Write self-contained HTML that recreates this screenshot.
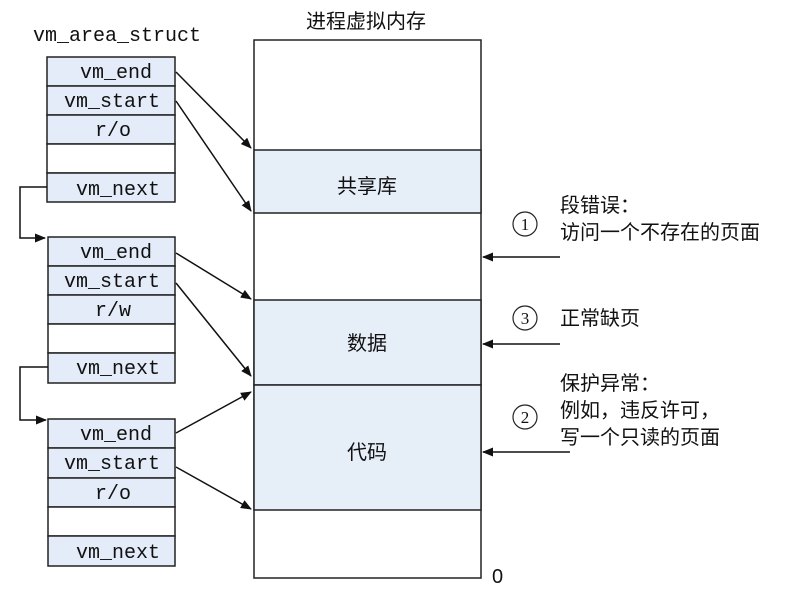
<!DOCTYPE html>
<html><head><meta charset="utf-8"><style>
body{margin:0;background:#fff;}
svg text{fill:#111}
.m{font-family:"Liberation Mono",monospace;font-size:20px}
.c{font-family:"Liberation Sans","Noto Sans CJK SC",sans-serif;font-size:20px}
</style></head><body>
<svg width="785" height="597" viewBox="0 0 785 597" xmlns="http://www.w3.org/2000/svg">
<defs><marker id="a" markerWidth="11" markerHeight="9" refX="10" refY="4.5" orient="auto" markerUnits="userSpaceOnUse"><path d="M0,0 L11,4.5 L0,9 z" fill="#111"/></marker></defs>
<text x="33" y="41" class="m">vm_area_struct</text>
<text x="306" y="28" class="c">进程虚拟内存</text>
<rect x="254" y="40" width="227" height="538" fill="#fff" stroke="#222" stroke-width="1.5"/>
<rect x="254" y="150" width="227" height="63" fill="#e6eef8" stroke="#222" stroke-width="1.5"/>
<rect x="254" y="300" width="227" height="85" fill="#e6eef8" stroke="#222" stroke-width="1.5"/>
<rect x="254" y="385" width="227" height="125" fill="#e6eef8" stroke="#222" stroke-width="1.5"/>
<text x="367" y="193" class="c" text-anchor="middle">共享库</text>
<text x="367" y="350" class="c" text-anchor="middle">数据</text>
<text x="367" y="459" class="c" text-anchor="middle">代码</text>
<text x="492" y="583" class="c" font-size="15">0</text>
<g stroke="#222" stroke-width="1.5" fill="#e3ecf8">
<rect x="47" y="57" width="128" height="29"/><rect x="47" y="86" width="128" height="29"/><rect x="47" y="115" width="128" height="29"/><rect x="47" y="144" width="128" height="29" fill="#fff"/><rect x="47" y="173" width="128" height="29"/>
<rect x="48" y="237" width="127" height="29"/><rect x="48" y="266" width="127" height="29"/><rect x="48" y="295" width="127" height="29"/><rect x="48" y="324" width="127" height="29" fill="#fff"/><rect x="48" y="353" width="127" height="30"/>
<rect x="48" y="419" width="127" height="29"/><rect x="48" y="448" width="127" height="30"/><rect x="48" y="478" width="127" height="29"/><rect x="48" y="507" width="127" height="29" fill="#fff"/><rect x="48" y="536" width="127" height="30"/>
</g>
<g class="m" text-anchor="middle">
<text x="116" y="78">vm_end</text><text x="112" y="107">vm_start</text><text x="113" y="136">r/o</text><text x="118" y="195">vm_next</text>
<text x="116" y="258">vm_end</text><text x="112" y="287">vm_start</text><text x="113" y="316">r/w</text><text x="118" y="374">vm_next</text>
<text x="116" y="440">vm_end</text><text x="112" y="469">vm_start</text><text x="113" y="499">r/o</text><text x="118" y="558">vm_next</text>
</g>
<g stroke="#111" stroke-width="1.5" fill="none" marker-end="url(#a)">
<path d="M47,187 H20 V238 H45"/>
<path d="M48,367 H20 V420 H46"/>
<line x1="176" y1="72" x2="251" y2="148"/>
<line x1="176" y1="101" x2="251" y2="211"/>
<line x1="176" y1="253" x2="251" y2="299"/>
<line x1="176" y1="283" x2="251" y2="376"/>
<line x1="176" y1="433" x2="251" y2="392"/>
<line x1="176" y1="467" x2="251" y2="509"/>
<line x1="560" y1="257" x2="483" y2="257"/>
<line x1="560" y1="344" x2="483" y2="344"/>
<line x1="570" y1="452" x2="483" y2="452"/>
</g>
<g fill="none" stroke="#222" stroke-width="1.2">
<circle cx="525" cy="224" r="12"/><circle cx="525" cy="318" r="12"/><circle cx="525" cy="417" r="12"/>
</g>
<g font-family="Liberation Serif,serif" font-size="17" text-anchor="middle">
<text x="525" y="230">1</text><text x="525" y="324">3</text><text x="525" y="423">2</text>
</g>
<g class="c">
<text x="560" y="212">段错误：</text><text x="560" y="239">访问一个不存在的页面</text>
<text x="560" y="325">正常缺页</text>
<text x="560" y="390">保护异常：</text><text x="560" y="417">例如，违反许可，</text><text x="560" y="444">写一个只读的页面</text>
</g>
</svg>
</body></html>
